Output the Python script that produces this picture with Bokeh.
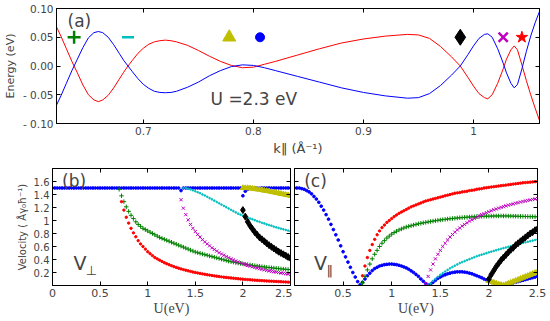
import numpy as np
from bokeh.plotting import figure
from bokeh.models import LinearAxis, FixedTicker, Label, Range1d
from bokeh.layouts import column, row
from bokeh.embed import file_html
from bokeh.resources import INLINE

# ---------------- panel (a): energy bands ----------------
k_vals = [0.621, 0.625, 0.630, 0.635, 0.637, 0.640, 0.645, 0.650, 0.655, 0.659,
          0.663, 0.668, 0.673, 0.678, 0.682, 0.686, 0.690, 0.695, 0.700, 0.705,
          0.710, 0.715, 0.720, 0.725, 0.730, 0.740, 0.750, 0.760, 0.770, 0.780,
          0.790, 0.800, 0.810, 0.820, 0.840, 0.860, 0.880, 0.900, 0.920, 0.940,
          0.950, 0.960, 0.970, 0.980, 0.988, 0.995, 1.000, 1.005, 1.010, 1.013,
          1.017, 1.022, 1.027, 1.030, 1.034, 1.037, 1.040, 1.044, 1.048, 1.052,
          1.056, 1.060]
E_blue = [-0.068, -0.052, -0.030, -0.008, 0.0, 0.012, 0.032, 0.049, 0.058, 0.060,
          0.058, 0.050, 0.037, 0.022, 0.010, 0.0, -0.010, -0.022, -0.032, -0.039,
          -0.044, -0.046, -0.0465, -0.046, -0.044, -0.037, -0.028, -0.017, -0.008, -0.001,
          0.002, 0.001, -0.003, -0.008, -0.018, -0.028, -0.038, -0.046, -0.052, -0.056,
          -0.055, -0.048, -0.034, -0.016, 0.0, 0.020, 0.035, 0.048, 0.055, 0.056,
          0.050, 0.030, 0.005, -0.012, -0.030, -0.038, -0.032, -0.005, 0.025, 0.052,
          0.075, 0.095]
E_red = [0.068, 0.052, 0.030, 0.008, 0.0, -0.012, -0.033, -0.050, -0.059, -0.062,
         -0.059, -0.051, -0.038, -0.023, -0.011, 0.0, 0.010, 0.022, 0.031, 0.038,
         0.042, 0.044, 0.045, 0.044, 0.042, 0.036, 0.027, 0.017, 0.008, 0.001,
         -0.003, -0.002, 0.003, 0.008, 0.019, 0.030, 0.040, 0.047, 0.052, 0.055,
         0.054, 0.048, 0.034, 0.016, 0.0, -0.020, -0.035, -0.048, -0.055, -0.057,
         -0.050, -0.030, -0.005, 0.012, 0.028, 0.035, 0.028, 0.002, -0.025, -0.050,
         -0.073, -0.095]

cross_k = [0.637, 0.686, 0.778, 0.806, 0.988, 1.027, 1.044]
cross_E = [0.05, 0.05, 0.05, 0.05, 0.05, 0.05, 0.05]
cross_marker = ["cross", "dash", "triangle", "circle", "diamond", "x", "star"]
cross_color = ["#008000", "#00bfbf", "#bfbf00", "#0000ff", "#000000", "#bf00bf", "#ff0000"]
cross_size = [13, 12, 13, 9, 16, 13, 12]

# ---------------- panels (b), (c): velocities vs U ----------------
U_grid = [round(0.025 * i, 3) for i in range(101)]

# (b) perpendicular velocity
b_blue = [1.5] * 54 + [1.46] + [1.5] * 25 + [1.38, 1.45, 1.48] + [1.5] * 18
b_green_start = 0.7
b_green = [1.48, 1.38, 1.29, 1.21, 1.14, 1.08, 1.03, 0.98, 0.94, 0.91, 0.88, 0.86,
           0.84, 0.82, 0.80, 0.78, 0.76, 0.74, 0.725, 0.71, 0.695, 0.68, 0.665, 0.65,
           0.635, 0.62, 0.605, 0.59, 0.575, 0.56, 0.545, 0.53, 0.515, 0.505, 0.495, 0.485,
           0.475, 0.465, 0.455, 0.445, 0.435, 0.425, 0.415, 0.405, 0.395, 0.385, 0.375, 0.367,
           0.36, 0.353, 0.346, 0.34, 0.334, 0.328, 0.322, 0.316, 0.31, 0.305, 0.3, 0.295,
           0.29, 0.285, 0.28, 0.276, 0.272, 0.268, 0.264, 0.26, 0.256, 0.252, 0.249, 0.246,
           0.243]
b_red_start = 0.725
b_red = [1.29, 1.16, 1.05, 0.96, 0.88, 0.81, 0.75, 0.69, 0.64, 0.6, 0.56, 0.52,
         0.49, 0.46, 0.43, 0.41, 0.39, 0.37, 0.35, 0.335, 0.32, 0.305, 0.29, 0.278,
         0.266, 0.255, 0.245, 0.235, 0.226, 0.217, 0.208, 0.2, 0.193, 0.186, 0.179, 0.172,
         0.166, 0.16, 0.154, 0.148, 0.143, 0.138, 0.133, 0.128, 0.124, 0.12, 0.116, 0.112,
         0.108, 0.104, 0.1, 0.097, 0.094, 0.091, 0.088, 0.085, 0.082, 0.08, 0.077, 0.075,
         0.072, 0.07, 0.068, 0.066, 0.064, 0.062, 0.06, 0.058, 0.056, 0.054, 0.052, 0.05]
b_mag_start = 1.35
b_mag = [1.32, 1.19, 1.09, 1.01, 0.94, 0.88, 0.83, 0.785, 0.745, 0.705, 0.67, 0.64,
         0.61, 0.58, 0.555, 0.53, 0.505, 0.485, 0.465, 0.445, 0.427, 0.41, 0.393, 0.377,
         0.362, 0.348, 0.335, 0.322, 0.31, 0.298, 0.287, 0.277, 0.267, 0.258, 0.249, 0.241,
         0.233, 0.225, 0.218, 0.211, 0.205, 0.199, 0.193, 0.187, 0.182, 0.177, 0.172]
b_cyan_start = 1.375
b_cyan = [1.50, 1.50, 1.49, 1.48, 1.465, 1.45, 1.435, 1.42, 1.40, 1.385, 1.365, 1.345,
          1.325, 1.305, 1.285, 1.265, 1.245, 1.225, 1.205, 1.185, 1.165, 1.145, 1.125, 1.105,
          1.09, 1.075, 1.06, 1.045, 1.03, 1.02, 1.005, 0.99, 0.98, 0.965, 0.955, 0.94,
          0.93, 0.92, 0.905, 0.895, 0.885, 0.875, 0.865, 0.855, 0.845, 0.835]
b_yel_start = 2.0
b_yel = [1.5, 1.5, 1.5, 1.495, 1.49, 1.485, 1.48, 1.475, 1.47, 1.46, 1.455, 1.45,
         1.44, 1.435, 1.425, 1.42, 1.41, 1.405, 1.395, 1.39, 1.38]
b_blk_start = 2.0
b_blk = [1.16, 1.06, 0.98, 0.92, 0.87, 0.82, 0.78, 0.74, 0.71, 0.68, 0.65, 0.62,
         0.595, 0.57, 0.545, 0.52, 0.5, 0.48, 0.46, 0.44, 0.42]

# (c) parallel velocity
c_blue = [1.5, 1.5, 1.5, 1.49, 1.48, 1.46, 1.44, 1.41, 1.37, 1.33, 1.28, 1.22,
          1.16, 1.09, 1.02, 0.94, 0.86, 0.78, 0.7, 0.61, 0.52, 0.44, 0.36, 0.28,
          0.2, 0.13, 0.06, 0.01, 0.05, 0.1, 0.15, 0.19, 0.23, 0.26, 0.28, 0.3,
          0.31, 0.32, 0.325, 0.33, 0.33, 0.325, 0.32, 0.31, 0.3, 0.285, 0.27, 0.25,
          0.225, 0.2, 0.17, 0.14, 0.1, 0.065, 0.03, 0.005, 0.02, 0.05, 0.08, 0.11,
          0.13, 0.15, 0.165, 0.18, 0.19, 0.2, 0.205, 0.21, 0.21, 0.21, 0.205, 0.2,
          0.19, 0.18, 0.165, 0.15, 0.135, 0.12, 0.1, 0.085, 0.07, 0.055, 0.04, 0.03,
          0.02, 0.01, 0.005, 0.01, 0.02, 0.03, 0.04, 0.05, 0.06, 0.07, 0.08, 0.09,
          0.1, 0.11, 0.12, 0.13, 0.14]
c_red_start = 0.7
c_red = [0.15, 0.3, 0.43, 0.54, 0.63, 0.71, 0.78, 0.84, 0.89, 0.93, 0.97, 1.0,
         1.03, 1.06, 1.085, 1.11, 1.13, 1.15, 1.17, 1.19, 1.21, 1.225, 1.24, 1.255,
         1.27, 1.285, 1.3, 1.31, 1.32, 1.33, 1.34, 1.35, 1.36, 1.37, 1.38, 1.39,
         1.40, 1.41, 1.42, 1.425, 1.43, 1.44, 1.445, 1.45, 1.46, 1.465, 1.47, 1.48,
         1.485, 1.49, 1.5, 1.505, 1.51, 1.515, 1.52, 1.525, 1.53, 1.535, 1.54, 1.545,
         1.55, 1.555, 1.56, 1.565, 1.57, 1.575, 1.58, 1.583, 1.587, 1.59, 1.594, 1.597,
         1.6]
c_green_start = 0.7
c_green = [0.04, 0.14, 0.24, 0.33, 0.41, 0.48, 0.54, 0.6, 0.65, 0.69, 0.73, 0.76,
           0.79, 0.815, 0.835, 0.855, 0.87, 0.885, 0.9, 0.91, 0.92, 0.93, 0.94, 0.95,
           0.957, 0.964, 0.971, 0.978, 0.985, 0.991, 0.997, 1.003, 1.008, 1.013, 1.018, 1.023,
           1.027, 1.031, 1.035, 1.039, 1.042, 1.045, 1.048, 1.051, 1.054, 1.056, 1.058, 1.06,
           1.062, 1.064, 1.065, 1.066, 1.067, 1.068, 1.069, 1.07, 1.07, 1.07, 1.07, 1.07,
           1.069, 1.068, 1.067, 1.066, 1.065, 1.064, 1.063, 1.062, 1.061, 1.06, 1.059, 1.058,
           1.057]
c_mag_start = 1.35
c_mag = [0.03, 0.14, 0.24, 0.33, 0.41, 0.48, 0.54, 0.6, 0.65, 0.7, 0.745, 0.785,
         0.82, 0.855, 0.885, 0.915, 0.94, 0.965, 0.99, 1.01, 1.03, 1.05, 1.07, 1.09,
         1.105, 1.12, 1.135, 1.15, 1.165, 1.178, 1.19, 1.202, 1.214, 1.225, 1.236, 1.246,
         1.256, 1.266, 1.275, 1.284, 1.293, 1.301, 1.309, 1.317, 1.324, 1.331, 1.338]
c_cyan_start = 1.375
c_cyan = [0.0, 0.03, 0.07, 0.1, 0.135, 0.165, 0.19, 0.215, 0.24, 0.265, 0.285, 0.305,
          0.325, 0.345, 0.36, 0.375, 0.39, 0.405, 0.42, 0.435, 0.45, 0.462, 0.474, 0.486,
          0.498, 0.51, 0.521, 0.532, 0.543, 0.554, 0.565, 0.575, 0.585, 0.595, 0.605, 0.615,
          0.625, 0.635, 0.645, 0.655, 0.664, 0.673, 0.682, 0.691, 0.7, 0.709]
c_yel_start = 2.0
c_yel = [0.07, 0.06, 0.045, 0.03, 0.02, 0.01, 0.005, 0.015, 0.03, 0.045, 0.06, 0.075,
         0.09, 0.105, 0.12, 0.135, 0.15, 0.165, 0.18, 0.195, 0.21]
c_blk_start = 2.0
c_blk = [0.1, 0.17, 0.23, 0.29, 0.34, 0.39, 0.43, 0.47, 0.51, 0.55, 0.58, 0.62,
         0.65, 0.68, 0.71, 0.74, 0.77, 0.8, 0.82, 0.85, 0.87]

FONT = "DejaVu Sans"
SERIF = "Liberation Serif"
BLUE, GREEN, RED = "#0000ff", "#008000", "#ff0000"
CYAN, MAG, YEL, BLK = "#00bfbf", "#bf00bf", "#bfbf00", "#000000"


def xs_for(start, vals):
    i0 = U_grid.index(round(start, 3))
    return U_grid[i0:i0 + len(vals)]


def style_axis(ax, font_size="10px"):
    ax.major_tick_in = 4
    ax.major_tick_out = 0
    ax.minor_tick_line_color = None
    ax.major_label_text_font = FONT
    ax.major_label_text_font_size = font_size
    ax.major_label_standoff = 3
    ax.axis_line_color = "black"
    ax.major_tick_line_color = "black"


def hide_labels(ax):
    ax.major_label_text_font_size = "1px"
    ax.major_label_text_color = None
    ax.major_label_standoff = 0


def hidden_axis(ticks, side, p):
    ax = LinearAxis(ticker=FixedTicker(ticks=ticks))
    ax.major_tick_in = 4
    ax.major_tick_out = 0
    ax.minor_tick_line_color = None
    ax.axis_label = None
    hide_labels(ax)
    p.add_layout(ax, side)


def base_fig(**kw):
    p = figure(output_backend="svg", toolbar_location=None, **kw)
    p.xgrid.visible = False
    p.ygrid.visible = False
    p.outline_line_color = "black"
    p.outline_line_alpha = 1.0
    p.background_fill_color = "white"
    p.border_fill_color = "white"
    return p


# ---------- figure (a) ----------
pa = base_fig(width=549, height=158, x_range=Range1d(0.621, 1.06), y_range=Range1d(-0.1, 0.1),
              min_border_left=56, min_border_right=10, min_border_top=8, min_border_bottom=30)
xt_a = [0.7, 0.8, 0.9, 1.0]
yt_a = [-0.1, -0.05, 0.0, 0.05, 0.1]
pa.xaxis.ticker = FixedTicker(ticks=xt_a)
pa.yaxis.ticker = FixedTicker(ticks=yt_a)
pa.yaxis.major_label_overrides = {-0.1: "- 0.10", -0.05: "- 0.05", 0.0: "0.00", 0.05: "0.05", 0.1: "0.10"}
style_axis(pa.xaxis[0], "10.5px")
style_axis(pa.yaxis[0], "10.5px")
pa.xaxis.axis_label = "k\u2016 (\u00c5\u207b\u00b9)"
pa.yaxis.axis_label = "Energy (eV)"
for ax in (pa.xaxis[0], pa.yaxis[0]):
    ax.axis_label_text_font = FONT
    ax.axis_label_text_font_style = "normal"
    ax.axis_label_standoff = 3
pa.xaxis.axis_label_text_font_size = "13px"
pa.yaxis.axis_label_text_font_size = "11px"
hidden_axis(xt_a, "above", pa)
hidden_axis(yt_a, "right", pa)

pa.line(k_vals, E_red, line_color=RED, line_width=1)
pa.line(k_vals, E_blue, line_color=BLUE, line_width=1)
for kx, ey, mk, col, sz in zip(cross_k, cross_E, cross_marker, cross_color, cross_size):
    lw = 2.5 if mk in ("cross", "dash", "x") else 1
    pa.scatter([kx], [ey], marker=mk, size=sz, line_color=col, fill_color=col, line_width=lw)

pa.add_layout(Label(x=0.631, y=0.061, text="(a)", text_font=FONT, text_font_size="17px",
                    text_baseline="bottom"))
pa.add_layout(Label(x=0.761, y=-0.074, text="U =2.3 eV", text_font=FONT, text_font_size="17px",
                    text_baseline="bottom"))


# ---------- figures (b), (c) ----------
xt_bc = [0.0, 0.5, 1.0, 1.5, 2.0, 2.5]
yt_bc = [0.2, 0.4, 0.6, 0.8, 1.0, 1.2, 1.4, 1.6]


def vel_fig(width, left, right, show_ylabels):
    p = base_fig(width=width, height=160, x_range=Range1d(0, 2.5), y_range=Range1d(0, 1.8),
                 min_border_left=left, min_border_right=right, min_border_top=10,
                 min_border_bottom=30)
    p.xaxis.ticker = FixedTicker(ticks=xt_bc if show_ylabels else xt_bc[1:])
    p.yaxis.ticker = FixedTicker(ticks=yt_bc)
    style_axis(p.xaxis[0], "11px")
    style_axis(p.yaxis[0], "10px")
    p.xaxis.axis_label = "U(eV)"
    p.xaxis.axis_label_text_font = SERIF
    p.xaxis.axis_label_text_font_style = "normal"
    p.xaxis.axis_label_text_font_size = "14px"
    p.xaxis.axis_label_standoff = 1
    if show_ylabels:
        p.yaxis.axis_label = "Velocity ( \u00c5\u03b3\u2080\u0127\u207b\u00b9)"
        p.yaxis.axis_label_text_font = FONT
        p.yaxis.axis_label_text_font_style = "normal"
        p.yaxis.axis_label_text_font_size = "10px"
        p.yaxis.axis_label_standoff = 3
    else:
        hide_labels(p.yaxis[0])
    hidden_axis(xt_bc, "above", p)
    hidden_axis(yt_bc, "right", p)
    return p


def draw_series(p, blue, green, gs, red, rs, mag, ms, cyan, cs, yel, ys, blk, ks):
    p.scatter(U_grid[:len(blue)], blue, marker="circle", size=2.7, line_color=BLUE, fill_color=BLUE)
    p.scatter(xs_for(gs, green), green, marker="cross", size=4.5, line_color=GREEN, line_width=1)
    p.scatter(xs_for(rs, red), red, marker="circle", size=2.4, line_color=RED, fill_color=RED)
    p.scatter(xs_for(ms, mag), mag, marker="x", size=4.5, line_color=MAG, line_width=1)
    p.scatter(xs_for(cs, cyan), cyan, marker="circle", size=1.7, line_color=CYAN, fill_color=CYAN)
    p.scatter(xs_for(ys, yel), yel, marker="triangle", size=5.5, line_color=YEL, fill_color=YEL)
    p.scatter(xs_for(ks, blk), blk, marker="diamond", size=7, line_color=BLK, fill_color=BLK)


pb = vel_fig(292, 52, 2, True)
draw_series(pb, b_blue, b_green, b_green_start, b_red, b_red_start, b_mag, b_mag_start,
            b_cyan, b_cyan_start, b_yel, b_yel_start, b_blk, b_blk_start)
pb.add_layout(Label(x=0.1, y=1.76, text="(b)", text_font=FONT, text_font_size="17px",
                    text_baseline="top"))
pb.add_layout(Label(x=0.22, y=0.17, text="V", text_font=FONT, text_font_size="19px",
                    text_baseline="bottom"))
pb.add_layout(Label(x=0.35, y=0.12, text="\u22a5", text_font=FONT, text_font_size="13px",
                    text_baseline="bottom"))

pc = vel_fig(257, 2, 12, False)
draw_series(pc, c_blue, c_green, c_green_start, c_red, c_red_start, c_mag, c_mag_start,
            c_cyan, c_cyan_start, c_yel, c_yel_start, c_blk, c_blk_start)
pc.add_layout(Label(x=0.1, y=1.76, text="(c)", text_font=FONT, text_font_size="17px",
                    text_baseline="top"))
pc.add_layout(Label(x=0.2, y=0.17, text="V", text_font=FONT, text_font_size="19px",
                    text_baseline="bottom"))
pc.add_layout(Label(x=0.33, y=0.12, text="\u2016", text_font=FONT, text_font_size="13px",
                    text_baseline="bottom"))

layout = column(pa, row(pb, pc, spacing=0), spacing=0)
open("out.html", "w").write(file_html(layout, INLINE))
